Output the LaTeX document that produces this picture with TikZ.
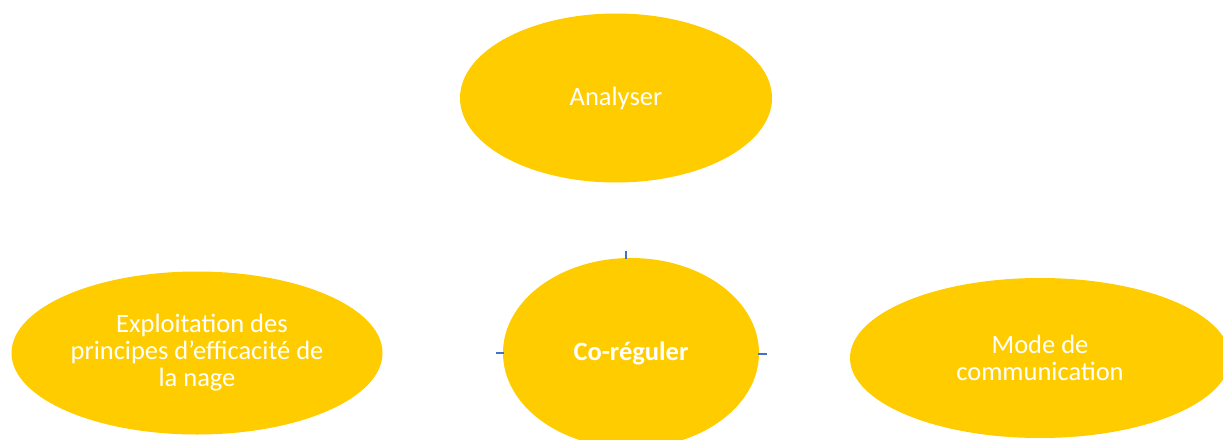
\documentclass[tikz,border=0pt]{standalone}
\usepackage{fontspec}
\setmainfont{Carlito}
\usetikzlibrary{shapes.geometric}
\definecolor{fillY}{HTML}{FFCC00}
\definecolor{stubB}{HTML}{4472C4}
\begin{document}
\begin{tikzpicture}[x=1pt,y=-1pt,
  blob/.style={ellipse,fill=fillY,draw=none,inner sep=0pt,text=white,align=center,
    font=\fontsize{26.5}{27}\selectfont},
  stub/.style={draw=stubB,line width=1.6pt}]
\useasboundingbox (0,0) rectangle (1223,439);
\begin{scope}
\clip (0,0) rectangle (1223,439);
\node[blob,minimum width=312pt,minimum height=169pt] (ana) at (616,98) {Analyser};
\node[blob,minimum width=256pt,minimum height=190pt] (co) at (631,353) {\textbf{Co-réguler}};
\node[blob,minimum width=371pt,minimum height=163pt] (exp) at (197,353) {\hspace*{10pt}Exploitation des\\principes d{\char"27}efficacité de\\la nage};
\node[blob,minimum width=380pt,minimum height=160pt] (mode) at (1040,358) {Mode de\\communication};
\end{scope}
\coordinate (tstub) at (626,251);
\coordinate (lstub) at (496,353);
\coordinate (rstub) at (767,354);
\draw[stub] (co.north -| tstub) ++(0,1) -- (tstub);
\draw[stub] (co.west |- lstub) ++(1,0) -- (lstub);
\draw[stub] (co.east |- rstub) ++(-1,0) -- (rstub);
\end{tikzpicture}
\end{document}
